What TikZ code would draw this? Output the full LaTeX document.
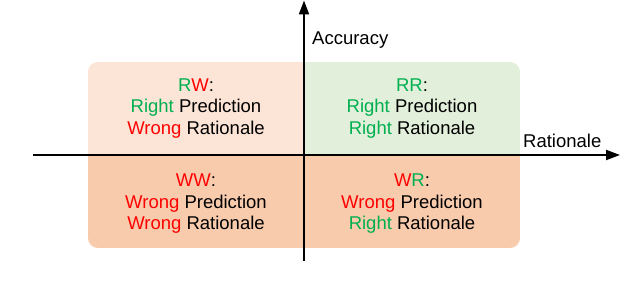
\documentclass[tikz,border=0pt]{standalone}
\usepackage{fontspec}
\setmainfont{Liberation Sans}
\usetikzlibrary{arrows.meta}
\definecolor{gr}{HTML}{00B050}
\definecolor{rd}{HTML}{FF0000}
\definecolor{peachlight}{HTML}{FCE4D6}
\definecolor{greenlight}{HTML}{E2EFDA}
\definecolor{peach}{HTML}{F8CBAD}
\newcommand{\G}[1]{\textcolor{gr}{#1}}
\newcommand{\Rd}[1]{\textcolor{rd}{#1}}
\tikzset{
  quad/.style={rectangle, inner sep=0pt, minimum width=216pt, minimum height=93pt, align=center,
    font=\fontsize{18.5}{21.5}\selectfont},
  axis/.style={line width=2pt, -{Triangle[length=14pt,width=10pt]}},
  axlabel/.style={inner sep=0pt, font=\fontsize{18.5}{21.5}\selectfont}
}
\begin{document}
\begin{tikzpicture}[x=1pt,y=-1pt]
\useasboundingbox (0,0) rectangle (640,291);
\begin{scope}
\clip[rounded corners=10pt] (88,62) rectangle (520,248);
\node[quad, fill=peachlight] (rw) at (196,108.5) {\G{R}\Rd{W}:\\\G{Right} Prediction\\\Rd{Wrong} Rationale};
\node[quad, fill=greenlight] (rr) at (412,108.5) {\G{RR}:\\\G{Right} Prediction\\\G{Right} Rationale};
\node[quad, fill=peach, minimum height=98pt] (ww) at (196,204) {\Rd{WW}:\\\Rd{Wrong} Prediction\\\Rd{Wrong} Rationale};
\node[quad, fill=peach, minimum height=98pt] (wr) at (412,204) {\Rd{W}\G{R}:\\\Rd{Wrong} Prediction\\\G{Right} Rationale};
\end{scope}
\coordinate (xs) at (33,155);
\coordinate (xe) at (620,155);
\coordinate (ys) at (304,261);
\coordinate (ye) at (304,0.5);
\draw[axis] (xs) -- (xe);
\draw[axis] (ys) -- (ye);
\node[axlabel, anchor=base west] (acc) at (312,45) {Accuracy};
\node[axlabel, anchor=base west] (rat) at (523,147.5) {Rationale};
\end{tikzpicture}
\end{document}
